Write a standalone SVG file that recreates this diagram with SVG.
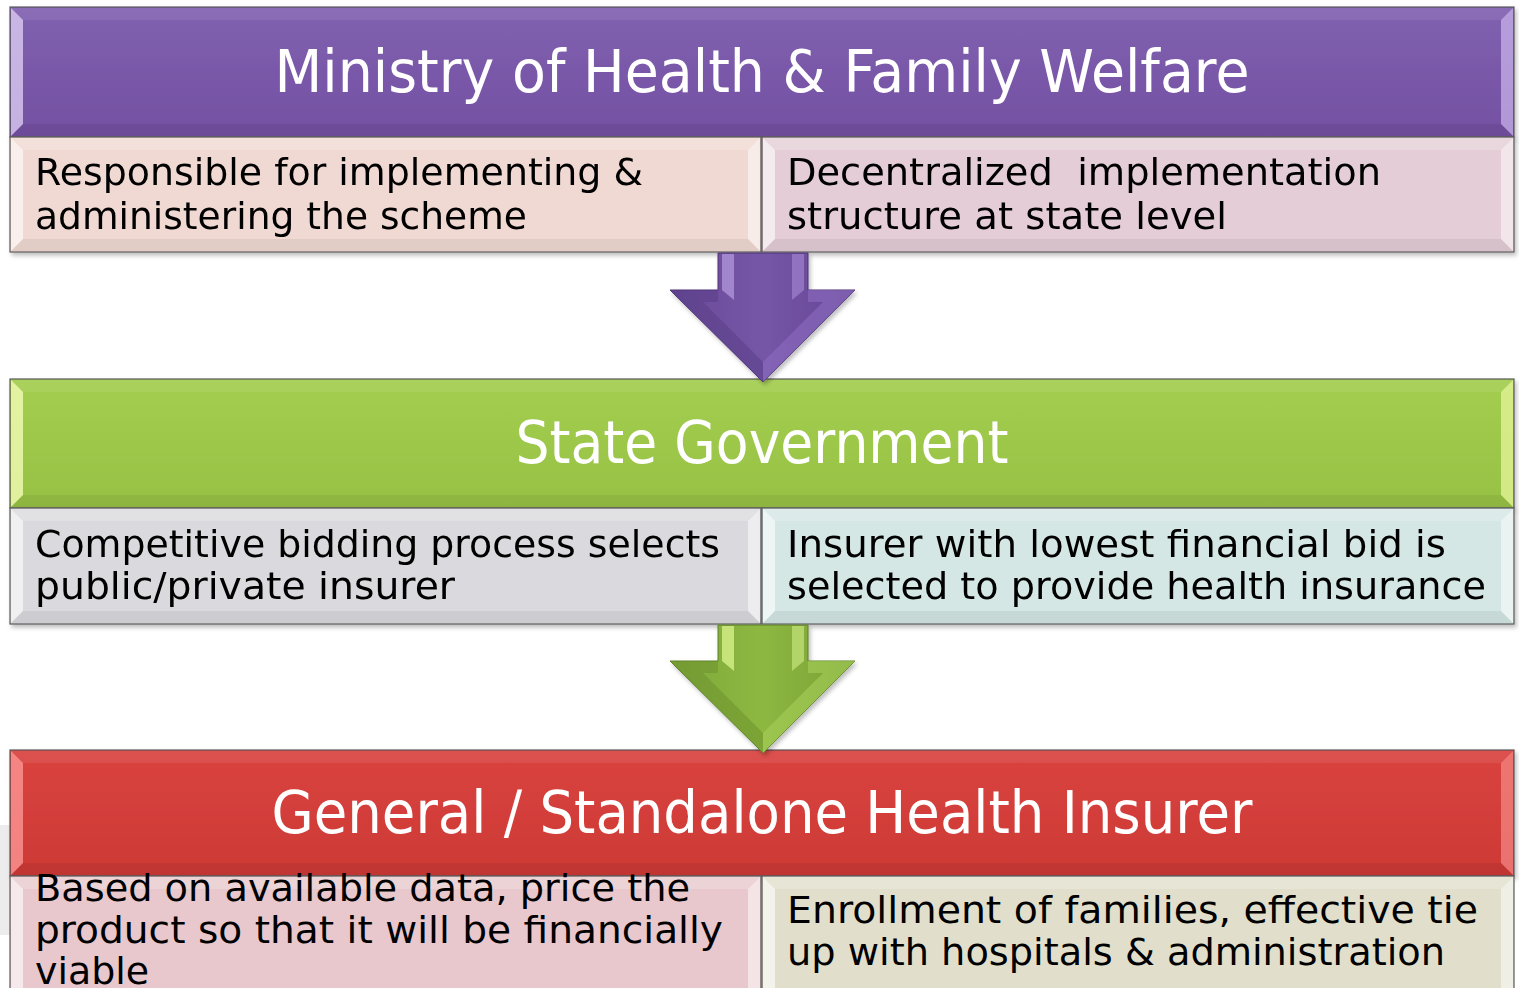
<svg xmlns="http://www.w3.org/2000/svg" width="1519" height="988" viewBox="0 0 1519 988">
<defs>
<linearGradient id="gPurple" x1="0" y1="0" x2="0" y2="1"><stop offset="0" stop-color="#8061B0"/><stop offset="1" stop-color="#7450A2"/></linearGradient>
<linearGradient id="gGreen" x1="0" y1="0" x2="0" y2="1"><stop offset="0" stop-color="#A4CE50"/><stop offset="1" stop-color="#97C143"/></linearGradient>
<linearGradient id="gRed" x1="0" y1="0" x2="0" y2="1"><stop offset="0" stop-color="#D9433F"/><stop offset="1" stop-color="#CD3935"/></linearGradient>
<linearGradient id="aPurple" x1="0" y1="0" x2="1" y2="0"><stop offset="0" stop-color="#6A4A99"/><stop offset="0.5" stop-color="#7555A6"/><stop offset="1" stop-color="#664696"/></linearGradient>
<linearGradient id="aGreen" x1="0" y1="0" x2="1" y2="0"><stop offset="0" stop-color="#7FA83A"/><stop offset="0.5" stop-color="#8DB841"/><stop offset="1" stop-color="#789F35"/></linearGradient>
<filter id="sh" x="-2%" y="-10%" width="104%" height="130%"><feDropShadow dx="2" dy="3" stdDeviation="2" flood-color="#000" flood-opacity="0.25"/></filter>
</defs>
<style>
.box{stroke:#5a5a5a;stroke-width:1.2}
.hd{font-family:"DejaVu Sans","Liberation Sans",sans-serif;font-size:58px;fill:#fff;text-anchor:middle}
.tx{font-family:"DejaVu Sans","Liberation Sans",sans-serif;font-size:38px;fill:#000}
</style>
<rect width="1519" height="988" fill="#fff"/>
<rect x="0" y="825" width="10" height="110" fill="#ececec"/>

<g id="ministry" filter="url(#sh)">
  <rect class="box" x="10" y="7" width="1504" height="130" fill="url(#gPurple)"/>
  <polygon points="11,8 23,20 23,124 11,136" fill="#E2D3F7" opacity="0.75"/>
  <polygon points="1513,8 1501,20 1501,124 1513,136" fill="#CDB6EE" opacity="0.7"/>
  <polygon points="11,8 1513,8 1501,20 23,20" fill="#fff" opacity="0.08"/>
  <polygon points="11,136 1513,136 1501,124 23,124" fill="#000" opacity="0.06"/>
  <text class="hd" x="762" y="92" textLength="975" lengthAdjust="spacingAndGlyphs">Ministry of Health &amp; Family Welfare</text>
</g>
<g id="m-left" filter="url(#sh)">
  <rect class="box" x="10" y="137" width="751" height="115" fill="#F1D9D3"/>
  <polygon points="11,138 23,150 23,239 11,251" fill="#fff" opacity="0.6"/>
  <polygon points="760,138 748,150 748,239 760,251" fill="#fff" opacity="0.5"/>
  <polygon points="11,138 760,138 748,150 23,150" fill="#fff" opacity="0.2"/>
  <polygon points="11,251 760,251 748,239 23,239" fill="#000" opacity="0.06"/>
  <text class="tx" x="35" y="185" textLength="608" lengthAdjust="spacingAndGlyphs">Responsible for implementing &amp;</text>
  <text class="tx" x="35" y="229" textLength="492" lengthAdjust="spacingAndGlyphs">administering the scheme</text>
</g>
<g id="m-right" filter="url(#sh)">
  <rect class="box" x="762" y="137" width="752" height="115" fill="#E4CDD6"/>
  <polygon points="763,138 775,150 775,239 763,251" fill="#fff" opacity="0.6"/>
  <polygon points="1513,138 1501,150 1501,239 1513,251" fill="#fff" opacity="0.5"/>
  <polygon points="763,138 1513,138 1501,150 775,150" fill="#fff" opacity="0.2"/>
  <polygon points="763,251 1513,251 1501,239 775,239" fill="#000" opacity="0.06"/>
  <text class="tx" x="787" y="185" textLength="594" lengthAdjust="spacingAndGlyphs" xml:space="preserve">Decentralized  implementation</text>
  <text class="tx" x="787" y="229" textLength="440" lengthAdjust="spacingAndGlyphs">structure at state level</text>
</g>

<g id="state" filter="url(#sh)">
  <rect class="box" x="10" y="379" width="1504" height="129" fill="url(#gGreen)"/>
  <polygon points="11,380 23,392 23,495 11,507" fill="#F2FBB5" opacity="0.8"/>
  <polygon points="1513,380 1501,392 1501,495 1513,507" fill="#E6F59B" opacity="0.75"/>
  <polygon points="11,380 1513,380 1501,392 23,392" fill="#fff" opacity="0.08"/>
  <polygon points="11,507 1513,507 1501,495 23,495" fill="#000" opacity="0.06"/>
  <text class="hd" x="762" y="463" textLength="493" lengthAdjust="spacingAndGlyphs">State Government</text>
</g>
<g id="s-left" filter="url(#sh)">
  <rect class="box" x="10" y="508" width="751" height="116" fill="#DAD9DD"/>
  <polygon points="11,509 23,521 23,611 11,623" fill="#fff" opacity="0.6"/>
  <polygon points="760,509 748,521 748,611 760,623" fill="#fff" opacity="0.5"/>
  <polygon points="11,509 760,509 748,521 23,521" fill="#fff" opacity="0.2"/>
  <polygon points="11,623 760,623 748,611 23,611" fill="#000" opacity="0.06"/>
  <text class="tx" x="35" y="557" textLength="685" lengthAdjust="spacingAndGlyphs">Competitive bidding process selects</text>
  <text class="tx" x="35" y="599" textLength="420" lengthAdjust="spacingAndGlyphs">public/private insurer</text>
</g>
<g id="s-right" filter="url(#sh)">
  <rect class="box" x="762" y="508" width="752" height="116" fill="#D4E7E5"/>
  <polygon points="763,509 775,521 775,611 763,623" fill="#fff" opacity="0.6"/>
  <polygon points="1513,509 1501,521 1501,611 1513,623" fill="#fff" opacity="0.5"/>
  <polygon points="763,509 1513,509 1501,521 775,521" fill="#fff" opacity="0.2"/>
  <polygon points="763,623 1513,623 1501,611 775,611" fill="#000" opacity="0.06"/>
  <text class="tx" x="787" y="557" textLength="659" lengthAdjust="spacingAndGlyphs">Insurer with lowest financial bid is</text>
  <text class="tx" x="787" y="599" textLength="699" lengthAdjust="spacingAndGlyphs">selected to provide health insurance</text>
</g>

<g id="insurer" filter="url(#sh)">
  <rect class="box" x="10" y="750" width="1504" height="126" fill="url(#gRed)"/>
  <polygon points="11,751 23,763 23,863 11,875" fill="#FF9C9A" opacity="0.75"/>
  <polygon points="1513,751 1501,763 1501,863 1513,875" fill="#F58A87" opacity="0.7"/>
  <polygon points="11,751 1513,751 1501,763 23,763" fill="#fff" opacity="0.08"/>
  <polygon points="11,875 1513,875 1501,863 23,863" fill="#000" opacity="0.06"/>
  <text class="hd" x="762" y="833" textLength="981" lengthAdjust="spacingAndGlyphs">General / Standalone Health Insurer</text>
</g>
<g id="i-left">
  <rect class="box" x="10" y="876" width="751" height="120" fill="#E8C8CC"/>
  <polygon points="11,877 23,889 23,988 11,988" fill="#fff" opacity="0.6"/>
  <polygon points="760,877 748,889 748,988 760,988" fill="#fff" opacity="0.5"/>
  <polygon points="11,877 760,877 748,889 23,889" fill="#fff" opacity="0.2"/>
  <text class="tx" x="35" y="901" textLength="655" lengthAdjust="spacingAndGlyphs">Based on available data, price the</text>
  <text class="tx" x="35" y="943" textLength="688" lengthAdjust="spacingAndGlyphs">product so that it will be financially</text>
  <text class="tx" x="35" y="984" textLength="114" lengthAdjust="spacingAndGlyphs">viable</text>
</g>
<g id="i-right">
  <rect class="box" x="762" y="876" width="752" height="120" fill="#E1DFCC"/>
  <polygon points="763,877 775,889 775,988 763,988" fill="#fff" opacity="0.6"/>
  <polygon points="1513,877 1501,889 1501,988 1513,988" fill="#fff" opacity="0.5"/>
  <polygon points="763,877 1513,877 1501,889 775,889" fill="#fff" opacity="0.2"/>
  <text class="tx" x="787" y="923" textLength="691" lengthAdjust="spacingAndGlyphs">Enrollment of families, effective tie</text>
  <text class="tx" x="787" y="965" textLength="658" lengthAdjust="spacingAndGlyphs">up with hospitals &amp; administration</text>
</g>

<g id="connectors">
  <g id="arrow1" filter="url(#sh)">
    <polygon points="718,253 808,253 808,290 855,290 763,382 670,290 718,290" fill="url(#aPurple)" stroke="#4d3575" stroke-width="1"/>
    <polygon points="722,254 734,254 734,300 722,290" fill="#B79BE0" opacity="0.7"/>
    <polygon points="792,254 804,254 804,290 792,300" fill="#A98AD6" opacity="0.6"/>
    <polygon points="808,290 855,290 763,382 763,362 823,302 808,302" fill="#8F70C2" opacity="0.55"/>
    <polygon points="670,290 718,290 718,302 703,302 763,362 763,382" fill="#583C85" opacity="0.5"/>
  </g>
  <g id="arrow2" filter="url(#sh)">
    <polygon points="718,625 808,625 808,661 855,661 763,753 670,661 718,661" fill="url(#aGreen)" stroke="#5e7f28" stroke-width="1"/>
    <polygon points="722,626 734,626 734,671 722,661" fill="#D6F08A" opacity="0.8"/>
    <polygon points="792,626 804,626 804,661 792,671" fill="#C6E47A" opacity="0.7"/>
    <polygon points="808,661 855,661 763,753 763,733 823,673 808,673" fill="#A7CF5A" opacity="0.6"/>
    <polygon points="670,661 718,661 718,673 703,673 763,733 763,753" fill="#6A8F2C" opacity="0.5"/>
  </g>
</g>
</svg>
